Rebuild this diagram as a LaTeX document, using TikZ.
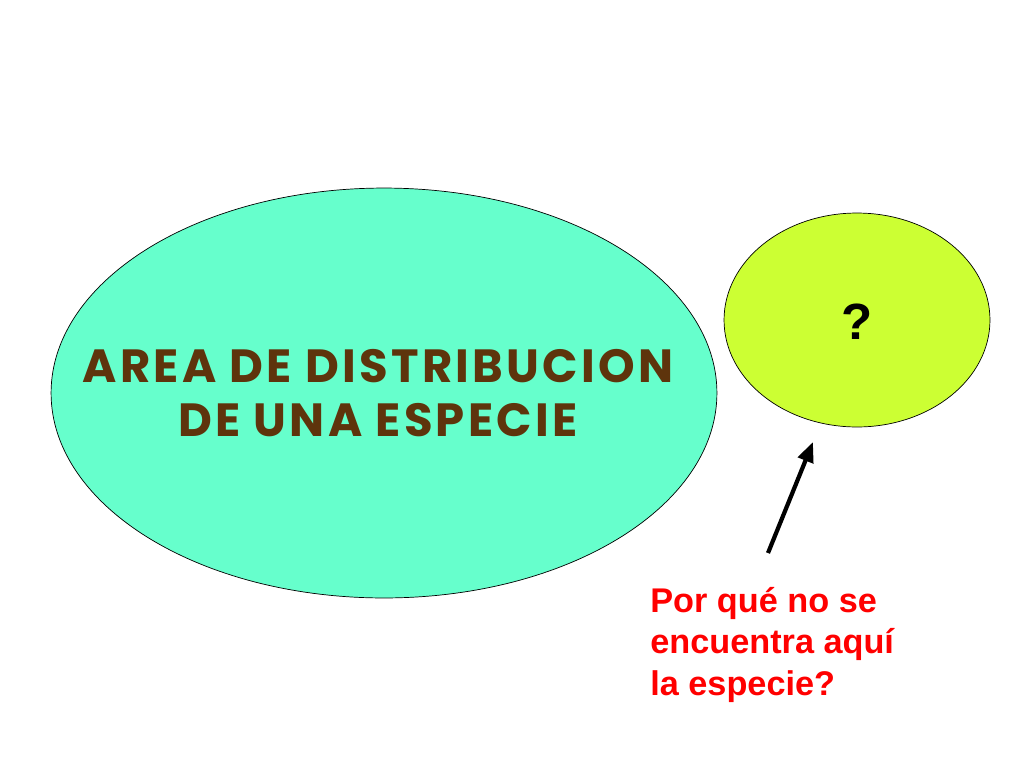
\documentclass[tikz,border=0pt]{standalone}
\usepackage{fontspec}
\setmainfont{Liberation Sans}
\newfontfamily\titlefont[LetterSpace=7]{Poppins}
\usetikzlibrary{arrows.meta,shapes.geometric}

\definecolor{aqua}{HTML}{66FFCC}
\definecolor{lime}{HTML}{CCFF33}
\definecolor{earth}{HTML}{5E340C}

\begin{document}
\begin{tikzpicture}%
  [x=0.02cm, y=-0.02cm,
   >={Triangle[length=4mm,width=3.2mm]},
   every area/.style={ellipse, draw=black, thin},
   title/.style={text=earth, align=center, font=\titlefont\bfseries\fontsize{26.5}{31}\selectfont},
   question/.style={text=red, align=left, font=\bfseries\fontsize{19.5}{23.5}\selectfont}
  ]
\useasboundingbox (0,0) rectangle (1024,768);

\node[every area, fill=aqua, minimum width=13.32cm, minimum height=8.2cm] (range) at (384,393) {};
\node[every area, fill=lime, minimum width=5.32cm, minimum height=4.28cm] (outside) at (857,320) {};

\node[title] (label) at (378,393) {AREA DE DISTRIBUCION\\DE UNA ESPECIE};

\node[font=\bfseries\fontsize{29}{32}\selectfont] (mark) at (857,322) {?};

\node[question, anchor=north west, inner sep=0pt] (why) at (650,587) {Por qué no se\\encuentra aquí\\la especie?};

\coordinate (tail) at (768,553);
\coordinate (tip)  at (813,442);
\draw[->, line width=2.4pt] (tail) -- (tip);
\end{tikzpicture}
\end{document}
